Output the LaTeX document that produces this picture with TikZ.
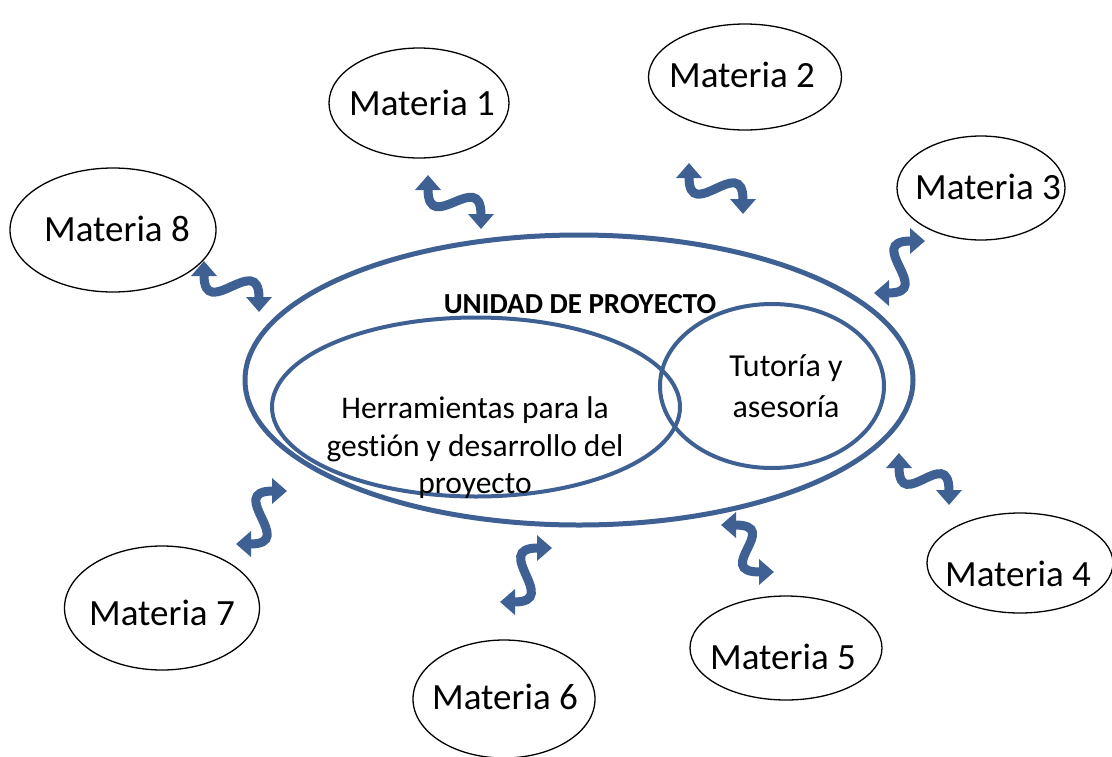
\documentclass[tikz,border=0pt]{standalone}
\usepackage{fontspec}
\setmainfont{Carlito}[Ligatures=NoCommon]
\usetikzlibrary{shapes.geometric,arrows.meta}
\definecolor{pblue}{RGB}{62,96,146}
\tikzset{
  materia/.style={draw=black, line width=1.3pt, ellipse, inner sep=0pt},
  mlabel/.style={anchor=base, inner sep=0pt, font=\fontsize{37}{44}\selectfont},
  unit/.style={draw=pblue, ellipse, inner sep=0pt},
  sarrow/.style={draw=pblue, line width=9pt, {Triangle[length=15pt,width=25pt]}-{Triangle[length=15pt,width=25pt]}},
}
\begin{document}
\begin{tikzpicture}[x=1pt,y=-1pt]
\useasboundingbox (0,0) rectangle (1112,756);
% outer ellipses
\node[materia, minimum width=180pt, minimum height=110pt] (m1) at (419,103) {};
\node[materia, minimum width=193pt, minimum height=106pt] (m2) at (745,77) {};
\node[materia, minimum width=168pt, minimum height=104pt] (m3) at (981,188) {};
\node[materia, minimum width=206pt, minimum height=124pt] (m8) at (113,230) {};
\node[materia, minimum width=186pt, minimum height=100pt] (m4) at (1020,563) {};
\node[materia, minimum width=192pt, minimum height=104pt] (m5) at (786,648) {};
\node[materia, minimum width=182pt, minimum height=118pt] (m6) at (504,699) {};
\node[materia, minimum width=195pt, minimum height=124pt] (m7) at (162,608) {};
% labels
\node[mlabel] (t1) at (422,115) {Materia 1};
\node[mlabel] (t2) at (742,87) {Materia 2};
\node[mlabel] (t3) at (988,199) {Materia 3};
\node[mlabel] (t8) at (117,241) {Materia 8};
\node[mlabel] (t4) at (1018,586) {Materia 4};
\node[mlabel] (t5) at (783,669) {Materia 5};
\node[mlabel] (t6) at (505,709) {Materia 6};
\node[mlabel] (t7) at (162,625) {Materia 7};
% unit
\node[unit, line width=5pt, minimum width=668pt, minimum height=290pt] (u) at (579,380) {};
\node[unit, line width=4pt, minimum width=408pt, minimum height=179pt] (h) at (476,407) {};
\node[unit, line width=4pt, minimum width=224pt, minimum height=164pt] (tu) at (772,386) {};
\node[anchor=base, inner sep=0pt, font=\bfseries\fontsize{29}{34}\selectfont] (ut) at (580,313) {UNIDAD DE PROYECTO};
\node[inner sep=0pt, align=center, font=\fontsize{31.5}{37.5}\selectfont] (ht) at (475,448) {Herramientas para la\\gestión y desarrollo del\\proyecto};
\node[inner sep=0pt, align=center, font=\fontsize{32}{41}\selectfont] (tt) at (786,386) {Tutoría y\\asesoría};
% S arrows
\coordinate (a1) at (428,175); \coordinate (b1) at (481,229);
\coordinate (a2) at (689,163); \coordinate (b2) at (743,214);
\coordinate (a3) at (925,241); \coordinate (b3) at (874,293);
\coordinate (a8) at (204,261); \coordinate (b8) at (259,312);
\coordinate (a4) at (899,453); \coordinate (b4) at (949,505);
\coordinate (a7) at (287,491); \coordinate (b7) at (236,544);
\coordinate (a6) at (552,548); \coordinate (b6) at (500,602);
\coordinate (a5) at (721,525); \coordinate (b5) at (774,572);
\draw[sarrow] (a1) .. controls +(0,62) and +(0,-62) .. (b1);
\draw[sarrow] (a2) .. controls +(0,62) and +(0,-62) .. (b2);
\draw[sarrow] (a8) .. controls +(0,62) and +(0,-62) .. (b8);
\draw[sarrow] (a4) .. controls +(0,62) and +(0,-62) .. (b4);
\draw[sarrow] (a3) .. controls +(-62,0) and +(62,0) .. (b3);
\draw[sarrow] (a7) .. controls +(-62,0) and +(62,0) .. (b7);
\draw[sarrow] (a6) .. controls +(-62,0) and +(62,0) .. (b6);
\draw[sarrow] (a5) .. controls +(62,0) and +(-62,0) .. (b5);
\end{tikzpicture}
\end{document}
